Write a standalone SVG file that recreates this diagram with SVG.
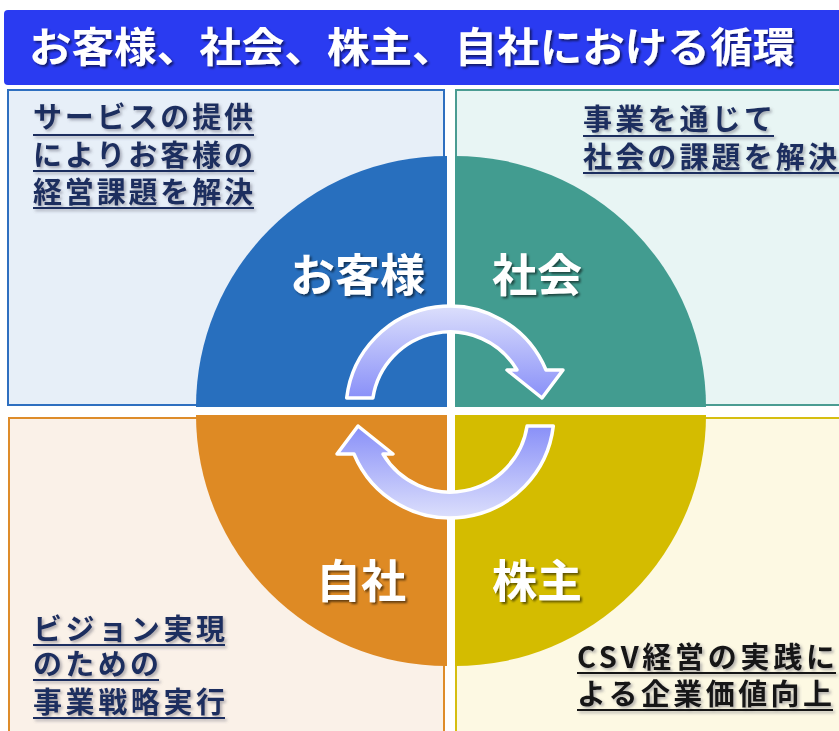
<svg xmlns="http://www.w3.org/2000/svg" width="839" height="731" viewBox="0 0 839 731">
  <defs>
    <filter id="shTitle" x="-5%" y="-20%" width="110%" height="150%">
      <feDropShadow dx="2" dy="2" stdDeviation="1.2" flood-color="#000" flood-opacity="0.55"/>
    </filter>
    <filter id="shTxt" x="-5%" y="-20%" width="115%" height="150%">
      <feDropShadow dx="2" dy="2" stdDeviation="1.5" flood-color="#556" flood-opacity="0.45"/>
    </filter>
    <linearGradient id="arrowGrad" gradientUnits="userSpaceOnUse" x1="0" y1="305" x2="0" y2="400">
      <stop offset="0" stop-color="#dde0fc"/>
      <stop offset="1" stop-color="#878ef8"/>
    </linearGradient>
  </defs>
  <style>
    .panel { stroke-width: 2; }
    .qlabel { font-family: "Noto Sans CJK JP", "Noto Sans", sans-serif; font-size: 45px; font-weight: 700; fill: #ffffff; }
    .note { font-family: "Noto Sans CJK JP", "Noto Sans", sans-serif; font-size: 29px; font-weight: 700; fill: #1c2d5e; }
    .noteK { font-family: "Noto Sans CJK JP", "Noto Sans", sans-serif; font-size: 29px; font-weight: 700; fill: #141414; }
    .ul { stroke: #1c2d5e; stroke-width: 2.2; }
    .ulK { stroke: #141414; stroke-width: 2.2; }
    .arrow { fill: url(#arrowGrad); stroke: #ffffff; stroke-width: 3.5; stroke-linejoin: round; }
  </style>
  <rect width="839" height="731" fill="#ffffff"/>

  <g id="title">
    <rect x="4" y="10" width="845" height="75" rx="4" fill="#2a3bf1"/>
    <text x="29" y="62" font-family="Noto Sans CJK JP, Noto Sans, sans-serif" font-size="41" font-weight="700" fill="#ffffff" filter="url(#shTitle)" textLength="766" lengthAdjust="spacingAndGlyphs">お客様、社会、株主、自社における循環</text>
  </g>

  <g id="panel-customer">
    <rect class="panel" x="8" y="90" width="436" height="315" fill="#e7eff8" stroke="#2e6fc0"/>
  </g>
  <g id="panel-society">
    <rect class="panel" x="456" y="90" width="390" height="315" fill="#e8f5f4" stroke="#4a9c92"/>
  </g>
  <g id="panel-self">
    <rect class="panel" x="9" y="418" width="435" height="320" fill="#faf1e8" stroke="#de8c2a"/>
  </g>
  <g id="panel-shareholder">
    <rect class="panel" x="456" y="418" width="390" height="320" fill="#fdf9e3" stroke="#d6be10"/>
  </g>

  <g id="q-customer">
    <path d="M447,407 L196,407 A251,251 0 0 1 447,156 Z" fill="#286fbe"/>
    <text class="qlabel" x="290" y="292" filter="url(#shTitle)">お客様</text>
  </g>
  <g id="q-society">
    <path d="M455,407 L455,156 A251,251 0 0 1 706,407 Z" fill="#429c90"/>
    <text class="qlabel" x="492" y="292" filter="url(#shTitle)">社会</text>
  </g>
  <g id="q-self">
    <path d="M447,415 L447,666 A251,251 0 0 1 196,415 Z" fill="#de8a24"/>
    <text class="qlabel" x="316" y="598" filter="url(#shTitle)">自社</text>
  </g>
  <g id="q-shareholder">
    <path d="M455,415 L706,415 A251,251 0 0 1 455,666 Z" fill="#d4bc00"/>
    <text class="qlabel" x="492" y="598" filter="url(#shTitle)">株主</text>
  </g>

  <g id="connectors">
    <path class="arrow" d="M346.7,398 A104,104 0 0 1 546,370 L563,370 L542,398 L507,370 L517,370 A78,78 0 0 0 372.9,398 Z"/>
    <path class="arrow" transform="rotate(180 450 412)" d="M346.7,398 A104,104 0 0 1 546,370 L563,370 L542,398 L507,370 L517,370 A78,78 0 0 0 372.9,398 Z"/>
  </g>

  <g id="note-customer" filter="url(#shTxt)">
    <text class="note" x="33" y="128" textLength="220" lengthAdjust="spacing">サービスの提供</text>
    <line class="ul" x1="33" y1="135" x2="254" y2="135"/>
    <text class="note" x="33" y="166" textLength="220" lengthAdjust="spacing">によりお客様の</text>
    <line class="ul" x1="33" y1="171" x2="254" y2="171"/>
    <text class="note" x="33" y="203" textLength="220" lengthAdjust="spacing">経営課題を解決</text>
    <line class="ul" x1="33" y1="208" x2="254" y2="208"/>
  </g>

  <g id="note-society" filter="url(#shTxt)">
    <text class="note" x="583" y="130" textLength="190" lengthAdjust="spacing">事業を通じて</text>
    <line class="ul" x1="583" y1="136" x2="774" y2="136"/>
    <text class="note" x="583" y="168" textLength="254" lengthAdjust="spacing">社会の課題を解決</text>
    <line class="ul" x1="583" y1="173" x2="839" y2="173"/>
  </g>

  <g id="note-self" filter="url(#shTxt)">
    <text class="note" x="33" y="640" textLength="192" lengthAdjust="spacing">ビジョン実現</text>
    <line class="ul" x1="33" y1="645" x2="225" y2="645"/>
    <text class="note" x="33" y="675" textLength="126" lengthAdjust="spacing">のための</text>
    <line class="ul" x1="33" y1="680" x2="159" y2="680"/>
    <text class="note" x="33" y="713" textLength="192" lengthAdjust="spacing">事業戦略実行</text>
    <line class="ul" x1="33" y1="718" x2="225" y2="718"/>
  </g>

  <g id="note-shareholder" filter="url(#shTxt)">
    <text class="noteK" x="577" y="668" textLength="258" lengthAdjust="spacing">CSV経営の実践に</text>
    <line class="ulK" x1="577" y1="673" x2="836" y2="673"/>
    <text class="noteK" x="577" y="705" textLength="255" lengthAdjust="spacing">よる企業価値向上</text>
    <line class="ulK" x1="577" y1="710" x2="833" y2="710"/>
  </g>
</svg>
